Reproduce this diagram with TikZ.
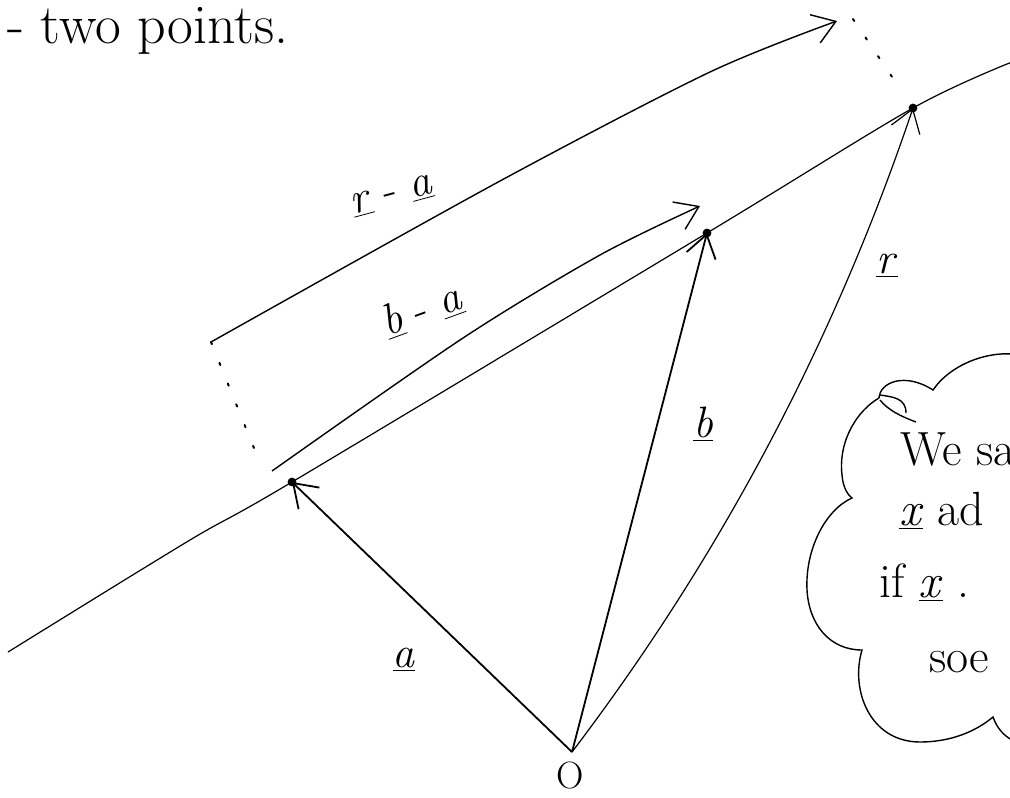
\documentclass[tikz,border=0pt]{standalone}
\usepackage{fontspec}
\usepackage{xcolor}
\usepackage{tikz}
\usetikzlibrary{arrows.meta}
\newcommand{\vecu}[1]{\underline{\textit{#1}}}

\begin{document}
\begin{tikzpicture}[x=0.5pt, y=-0.5pt, >={Straight Barb[length=11pt,width=15pt]},
	guide/.style={line width=0.6pt},
	dotline/.style={line width=1pt, dash pattern=on 1.2pt off 10pt, line cap=round},
	lbl/.style={font=\fontsize{22}{26}\selectfont},
	note/.style={font=\fontsize{24}{28}\selectfont, anchor=base west}]
				\useasboundingbox (0,0) rectangle (1010,797);
				
				% Points
				\coordinate (O) at (572,752);
				\coordinate (a) at (292,482);
				\coordinate (b) at (707,233);
				\coordinate (r) at (913,108);
				\coordinate (lineL) at (8,652);
				\coordinate (lineR) at (1012,62);
				
				% Line through the points
				\draw[guide] plot[smooth] coordinates {(lineL) (190,540) (a) (b) (r) (lineR)};
				\fill (a) circle (2.2pt);
				\fill (b) circle (2.2pt);
				\fill (r) circle (2.2pt);
				
				% Position vectors
				\draw[->, line width=0.9pt] (O) -- (a);
				\draw[->, line width=0.9pt] (O) -- (b);
				\draw[->, line width=0.6pt] (O) .. controls (721,556) and (834,342) .. (r);
				
				% Differences
				\coordinate (ba0) at (272,471);
				\coordinate (ba1) at (700,206);
				\coordinate (ra0) at (211,342);
				\coordinate (ra1) at (837,21);
				\draw[->, line width=0.7pt] plot[smooth] coordinates {(ba0) (463,338) (600,255) (ba1)};
				\draw[->, line width=0.7pt] plot[smooth] coordinates {(ra0) (500,181) (710,72) (ra1)};
				\draw[dotline] (ra0) -- (258,458);
				\coordinate (rtop) at (853,19);
				\draw[dotline, shorten >=9pt] (rtop) -- (r);
				
				% Labels
				\node[lbl] (la) at (404,660) {\vecu{a}};
				\node[lbl] (lb) at (703,424) {\vecu{b}};
				\node[lbl] (lr) at (887,266) {\vecu{r}};
				\node[lbl, rotate=20] (lba) at (422,310) {\vecu{b} - \vecu{a}};
				\node[lbl, rotate=15] (lra) at (392,196) {\vecu{r} - \vecu{a}};
				\node[font=\fontsize{19}{21}\selectfont, inner sep=1pt] (lO) at (570,776) {O};
				\node[note, font=\fontsize{28}{32}\selectfont] (title) at (0,44) {- two points.};
				
				% Cloud
				\draw[line width=0.7pt] (879,398) .. controls (880,382) and (905,372) .. (933,390)
					.. controls (950,365) and (985,352) .. (1012,354);
				\draw[line width=0.7pt] (880,395) .. controls (893,397) and (906,398) .. (906,413);
				\draw[line width=0.7pt] (880,400) .. controls (888,410) and (900,416) .. (916,422);
				\draw[line width=0.7pt] (879,398) .. controls (858,410) and (838,440) .. (842,475)
					.. controls (843,488) and (848,495) .. (852,498)
					.. controls (825,510) and (805,550) .. (807,590)
					.. controls (809,625) and (830,650) .. (862,650)
					.. controls (850,690) and (870,742) .. (920,742)
					.. controls (950,742) and (975,732) .. (993,717)
					.. controls (997,728) and (1003,735) .. (1012,740);
				\node[note] (n1) at (893,465) {We sa};
				\node[note] (n2) at (892,525) {\vecu{x} ad};
				\node[note] (n3) at (872,597) {if \vecu{x} .};
				\node[note] (n4) at (922,672) {soe};
			\end{tikzpicture}
\end{document}
